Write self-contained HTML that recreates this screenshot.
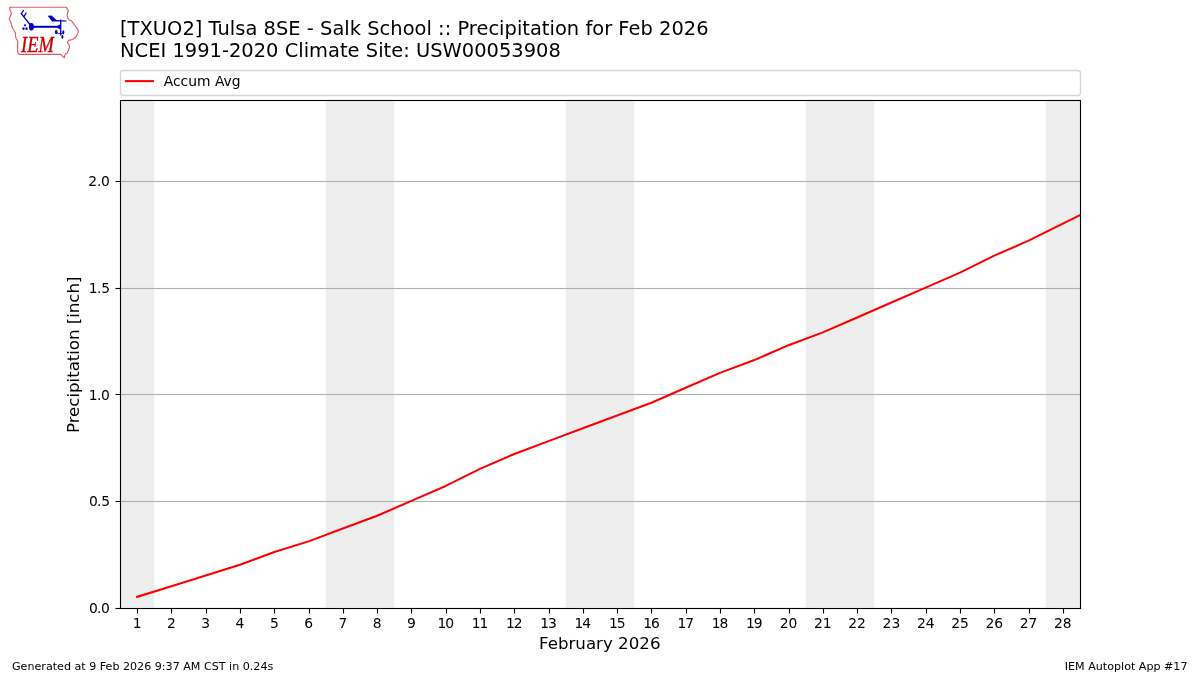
<!DOCTYPE html>
<html lang="en">
<head>
<meta charset="utf-8">
<title>[TXUO2] Tulsa 8SE - Salk School :: Precipitation for Feb 2026</title>
<style>
html,body{margin:0;padding:0;background:#fff;}
body{width:1200px;height:675px;overflow:hidden;}
svg{display:block;}
text{font-family:"DejaVu Sans","Liberation Sans",sans-serif;fill:#000;}
.t14{font-size:19.444px;}
.t12{font-size:16.667px;}
.t10{font-size:13.889px;}
.t8{font-size:11.111px;}
.iem{font-family:"Liberation Serif","DejaVu Serif",serif;font-style:italic;font-size:23px;fill:#cc0000;}
</style>
</head>
<body>
<svg width="1200" height="675" viewBox="0 0 1200 675">
<rect x="0" y="0" width="1200" height="675" fill="#ffffff"/>

<g fill="#eeeeee">
<rect x="120.00" y="99.90" width="34.29" height="507.60"/>
<rect x="325.71" y="99.90" width="68.57" height="507.60"/>
<rect x="565.71" y="99.90" width="68.57" height="507.60"/>
<rect x="805.71" y="99.90" width="68.57" height="507.60"/>
<rect x="1045.71" y="99.90" width="34.29" height="507.60"/>
</g>
<g fill="#b0b0b0" stroke="none">
<rect x="120" y="500.945" width="960" height="1.111"/>
<rect x="120" y="393.945" width="960" height="1.111"/>
<rect x="120" y="287.945" width="960" height="1.111"/>
<rect x="120" y="180.945" width="960" height="1.111"/>
</g>
<clipPath id="axclip"><rect x="120.00" y="99.90" width="960.00" height="507.60"/></clipPath>
<polyline clip-path="url(#axclip)" points="137.14,596.84 171.43,586.17 205.71,575.51 240.00,564.84 274.29,552.05 308.57,541.38 342.86,528.59 377.14,515.79 411.43,500.86 445.71,485.93 480.00,468.87 514.29,453.94 548.57,441.14 582.86,428.35 617.14,415.55 651.43,402.75 685.71,387.82 720.00,372.89 754.29,360.10 788.57,345.17 822.86,332.37 857.14,317.44 891.43,302.51 925.71,287.58 960.00,272.65 994.29,255.59 1028.57,240.66 1062.86,223.60 1097.14,206.54" fill="none" stroke="#ff0000" stroke-width="2.083" stroke-linejoin="round" stroke-linecap="square"/>
<g stroke="#000" stroke-width="1.111" fill="none">
<line x1="137.5" y1="608" x2="137.5" y2="613.5"/>
<line x1="171.5" y1="608" x2="171.5" y2="613.5"/>
<line x1="206.5" y1="608" x2="206.5" y2="613.5"/>
<line x1="240.5" y1="608" x2="240.5" y2="613.5"/>
<line x1="274.5" y1="608" x2="274.5" y2="613.5"/>
<line x1="309.5" y1="608" x2="309.5" y2="613.5"/>
<line x1="343.5" y1="608" x2="343.5" y2="613.5"/>
<line x1="377.5" y1="608" x2="377.5" y2="613.5"/>
<line x1="411.5" y1="608" x2="411.5" y2="613.5"/>
<line x1="446.5" y1="608" x2="446.5" y2="613.5"/>
<line x1="480.5" y1="608" x2="480.5" y2="613.5"/>
<line x1="514.5" y1="608" x2="514.5" y2="613.5"/>
<line x1="549.5" y1="608" x2="549.5" y2="613.5"/>
<line x1="583.5" y1="608" x2="583.5" y2="613.5"/>
<line x1="617.5" y1="608" x2="617.5" y2="613.5"/>
<line x1="651.5" y1="608" x2="651.5" y2="613.5"/>
<line x1="686.5" y1="608" x2="686.5" y2="613.5"/>
<line x1="720.5" y1="608" x2="720.5" y2="613.5"/>
<line x1="754.5" y1="608" x2="754.5" y2="613.5"/>
<line x1="789.5" y1="608" x2="789.5" y2="613.5"/>
<line x1="823.5" y1="608" x2="823.5" y2="613.5"/>
<line x1="857.5" y1="608" x2="857.5" y2="613.5"/>
<line x1="891.5" y1="608" x2="891.5" y2="613.5"/>
<line x1="926.5" y1="608" x2="926.5" y2="613.5"/>
<line x1="960.5" y1="608" x2="960.5" y2="613.5"/>
<line x1="994.5" y1="608" x2="994.5" y2="613.5"/>
<line x1="1029.5" y1="608" x2="1029.5" y2="613.5"/>
<line x1="1063.5" y1="608" x2="1063.5" y2="613.5"/>
<line x1="115.5" y1="608.5" x2="120" y2="608.5"/>
<line x1="115.5" y1="501.5" x2="120" y2="501.5"/>
<line x1="115.5" y1="394.5" x2="120" y2="394.5"/>
<line x1="115.5" y1="288.5" x2="120" y2="288.5"/>
<line x1="115.5" y1="181.5" x2="120" y2="181.5"/>
<rect x="120.5" y="100.5" width="960" height="508" stroke-linejoin="miter"/>
</g>
<g class="t10" text-anchor="middle">
<text x="137.14" y="628">1</text>
<text x="171.43" y="628">2</text>
<text x="205.71" y="628">3</text>
<text x="240.00" y="628">4</text>
<text x="274.29" y="628">5</text>
<text x="308.57" y="628">6</text>
<text x="342.86" y="628">7</text>
<text x="377.14" y="628">8</text>
<text x="411.43" y="628">9</text>
<text text-anchor="start" x="437.48 445.21" y="628">10</text>
<text text-anchor="start" x="471.76 479.50" y="628">11</text>
<text text-anchor="start" x="506.05 513.79" y="628">12</text>
<text text-anchor="start" x="540.33 548.07" y="628">13</text>
<text text-anchor="start" x="574.62 582.36" y="628">14</text>
<text text-anchor="start" x="608.91 616.64" y="628">15</text>
<text text-anchor="start" x="643.19 650.93" y="628">16</text>
<text text-anchor="start" x="677.48 685.21" y="628">17</text>
<text text-anchor="start" x="711.76 719.50" y="628">18</text>
<text text-anchor="start" x="746.05 753.79" y="628">19</text>
<text x="788.57" y="628">20</text>
<text x="822.86" y="628">21</text>
<text x="857.14" y="628">22</text>
<text x="891.43" y="628">23</text>
<text x="925.71" y="628">24</text>
<text x="960.00" y="628">25</text>
<text x="994.29" y="628">26</text>
<text x="1028.57" y="628">27</text>
<text x="1062.86" y="628">28</text>
</g>
<g class="t10" text-anchor="start">
<text x="88.99 97.03 101.04" y="613">0.0</text>
<text x="88.99 97.03 101.24" y="506">0.5</text>
<text x="88.74 97.03 101.04" y="400">1.0</text>
<text x="88.74 97.03 101.24" y="293">1.5</text>
<text x="88.19 96.93 101.04" y="186">2.0</text>
</g>
<text class="t12" text-anchor="middle" x="599.75" y="649">February 2026</text>
<text class="t12" text-anchor="middle" transform="translate(79 354.8) rotate(-90)" style="letter-spacing:-0.04px">Precipitation [inch]</text>
<text class="t14" x="120" y="35" style="letter-spacing:0.0205px">[TXUO2] Tulsa 8SE - Salk School :: Precipitation for Feb 2026</text>
<text class="t14" x="120" y="57" style="letter-spacing:0.016px">NCEI 1991-2020 Climate Site: USW00053908</text>
<rect x="120.5" y="70.5" width="960" height="25" rx="2.78" ry="2.78" fill="#ffffff" fill-opacity="0.8" stroke="#cccccc" stroke-opacity="0.8" stroke-width="1.389"/>
<line x1="125.1" y1="81.1" x2="153.9" y2="81.1" stroke="#ff0000" stroke-width="2.083" stroke-linecap="butt"/>
<text class="t10" x="163.7" y="86">Accum Avg</text>
<text class="t8" x="12" y="670">Generated at 9 Feb 2026 9:37 AM CST in 0.24s</text>
<text class="t8" x="1187.5" y="670" text-anchor="end">IEM Autoplot App #17</text>
<g id="logo">
<path d="M9.8,7.3 L66.6,7.2 L67.1,9.1 L68.4,10.7 L67.6,12.8 L67.2,15.5 L67.9,18.1 L69.2,20 L71.1,20.5 L72.7,22.4 L74,24.5 L76.1,27.2 L77.7,29.1 L78.3,31.6 L77.2,34.6 L75.6,37.2 L73.5,38.8 L71.1,39.9 L68.7,40.4 L67.6,42 L67.9,43.6 L69.2,45.2 L69.5,47.3 L68.7,49.5 L67.9,51.6 L67.1,53.2 L65.5,53.7 L64.7,55.6 L64.4,57.7 L63.1,56.7 L60.9,54.6 L60.1,54.4 L19.2,54.4 L18.1,53.2 L17.6,51.1 L17.6,47.3 L17.8,43.6 L17.6,40.4 L16,38.5 L15.5,35.6 L15.5,32.9 L14.4,31.3 L12.8,28.7 L11.7,26 L11.7,25.1 L10.4,21.3 L9.3,19.2 L10.4,16 L11.5,13.3 L10.1,10.7 Z" fill="none" stroke="#cc0000" stroke-opacity="0.64" stroke-width="1.15" stroke-linejoin="round"/>
<g stroke="#0000cc" fill="none" stroke-linecap="round">
<line x1="30" y1="24.5" x2="21.3" y2="13.6" stroke-width="1.3"/>
<line x1="21.3" y1="13.6" x2="23.5" y2="10.4" stroke-width="1.25"/>
<line x1="24" y1="16.3" x2="26.1" y2="13.1" stroke-width="1.25"/>
<line x1="33" y1="26.8" x2="60" y2="26.8" stroke-width="2" stroke-linecap="butt"/>
<line x1="60.7" y1="19.6" x2="60.7" y2="35.5" stroke-width="1.3" stroke-linecap="butt"/>
<path d="M56.2,32.5 Q59,34.2 60.7,33.6 Q62.4,34.2 63.4,32.8" stroke-width="0.9"/>
</g>
<g fill="#0000cc" stroke="none">
<ellipse cx="31.4" cy="26.7" rx="2.5" ry="3.8"/>
<circle cx="25.1" cy="25.3" r="1.1"/>
<ellipse cx="23.5" cy="28.7" rx="1.15" ry="1.4"/>
<ellipse cx="26.5" cy="28.7" rx="1.15" ry="1.4"/>
<path d="M47.6,15.7 L51.6,15.6 L56.4,20 L66.5,20.5 L66.8,21.6 L52.1,21.4 Z"/>
<path d="M57.5,25.9 L60.2,24.2 L60.2,29.4 L57.5,27.7 Z"/>
<ellipse cx="56.2" cy="32.1" rx="1.4" ry="2.05"/>
<ellipse cx="63.3" cy="32.3" rx="1.05" ry="2.1"/>
<ellipse cx="62.4" cy="36.9" rx="1.05" ry="1.8"/>
</g>
<text class="iem" x="21.0" y="51.8" textLength="32.8" lengthAdjust="spacingAndGlyphs" stroke="#cc0000" stroke-width="0.36">IEM</text>
</g>

</svg>
</body>
</html>
